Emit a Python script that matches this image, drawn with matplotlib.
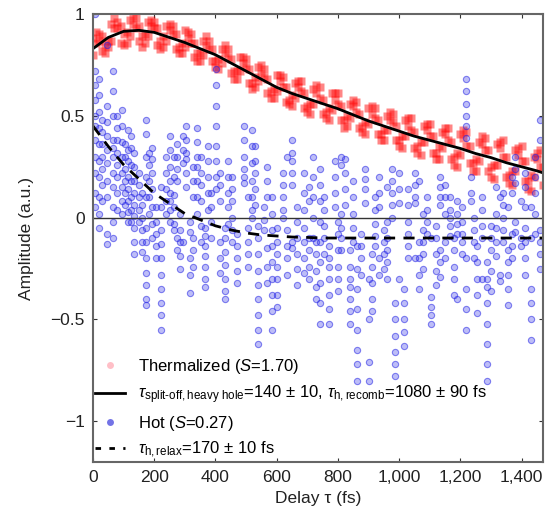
import numpy as np
import matplotlib
matplotlib.use('Agg')
import matplotlib.pyplot as plt
from matplotlib.lines import Line2D

plt.rcParams['font.family'] = ['Liberation Sans', 'DejaVu Sans']
plt.rcParams['mathtext.fontset'] = 'custom'
plt.rcParams['mathtext.rm'] = 'Liberation Sans'
plt.rcParams['mathtext.it'] = 'Liberation Sans:italic'

# thermalized signal, two scans on a 10 fs grid
therm_delay = np.arange(0, 1480, 10)
therm_scan1 = [0.88, 0.91, 0.87, 0.82, 0.81, 0.87, 0.95, 0.98, 0.93, 0.86,
               0.85, 0.91, 0.97, 0.99, 0.93, 0.87, 0.84, 0.90, 0.96, 0.97,
               0.93, 0.85, 0.83, 0.89, 0.94, 0.95, 0.90, 0.83, 0.81, 0.86,
               0.92, 0.91, 0.86, 0.79, 0.77, 0.81, 0.87, 0.89, 0.83, 0.77,
               0.74, 0.78, 0.83, 0.85, 0.79, 0.71, 0.68, 0.72, 0.79, 0.79,
               0.74, 0.66, 0.63, 0.69, 0.74, 0.75, 0.69, 0.61, 0.59, 0.63,
               0.70, 0.70, 0.64, 0.57, 0.56, 0.60, 0.66, 0.67, 0.62, 0.54,
               0.52, 0.56, 0.63, 0.65, 0.59, 0.51, 0.49, 0.54, 0.61, 0.61,
               0.56, 0.48, 0.44, 0.50, 0.56, 0.58, 0.52, 0.44, 0.42, 0.47,
               0.54, 0.55, 0.49, 0.41, 0.38, 0.43, 0.50, 0.52, 0.47, 0.38,
               0.35, 0.40, 0.48, 0.49, 0.43, 0.34, 0.32, 0.37, 0.45, 0.46,
               0.40, 0.32, 0.29, 0.35, 0.42, 0.44, 0.38, 0.29, 0.26, 0.32,
               0.41, 0.43, 0.35, 0.27, 0.23, 0.29, 0.37, 0.40, 0.33, 0.23,
               0.20, 0.26, 0.36, 0.37, 0.30, 0.20, 0.17, 0.23, 0.33, 0.34,
               0.28, 0.18, 0.14, 0.21, 0.30, 0.32, 0.25, 0.16]
therm_scan2 = [0.80, 0.86, 0.90, 0.89, 0.85, 0.84, 0.87, 0.93, 0.96, 0.94,
               0.90, 0.86, 0.89, 0.95, 0.98, 0.94, 0.89, 0.86, 0.89, 0.94,
               0.96, 0.93, 0.87, 0.84, 0.87, 0.92, 0.94, 0.90, 0.84, 0.81,
               0.84, 0.88, 0.90, 0.86, 0.81, 0.77, 0.80, 0.85, 0.87, 0.83,
               0.77, 0.73, 0.76, 0.81, 0.83, 0.78, 0.72, 0.68, 0.72, 0.76,
               0.78, 0.73, 0.66, 0.64, 0.67, 0.71, 0.73, 0.68, 0.62, 0.59,
               0.62, 0.67, 0.69, 0.64, 0.58, 0.55, 0.59, 0.64, 0.67, 0.61,
               0.55, 0.51, 0.56, 0.61, 0.64, 0.58, 0.52, 0.48, 0.53, 0.58,
               0.61, 0.55, 0.48, 0.45, 0.49, 0.55, 0.57, 0.51, 0.45, 0.41,
               0.46, 0.51, 0.54, 0.48, 0.41, 0.38, 0.43, 0.48, 0.51, 0.45,
               0.38, 0.34, 0.40, 0.45, 0.49, 0.42, 0.35, 0.31, 0.37, 0.43,
               0.46, 0.40, 0.32, 0.29, 0.34, 0.41, 0.44, 0.37, 0.30, 0.25,
               0.31, 0.39, 0.42, 0.35, 0.27, 0.23, 0.28, 0.36, 0.39, 0.33,
               0.25, 0.19, 0.26, 0.34, 0.38, 0.30, 0.21, 0.16, 0.23, 0.31,
               0.35, 0.28, 0.18, 0.13, 0.20, 0.29, 0.33, 0.25]

# hot signal: delay columns, number of points per column, amplitudes
hot_delay = [5, 20, 45, 65, 95, 115, 135, 150, 172, 192,
             222, 250, 265, 285, 305, 318, 340, 365, 385, 403,
             430, 455, 492, 518, 540, 560, 585, 620, 650, 690,
             720, 740, 772, 790, 810, 822, 838, 864, 890, 902,
             922, 950, 978, 985, 1000, 1015, 1052, 1078, 1105, 1135,
             1165, 1190, 1217, 1235, 1255, 1287, 1315, 1330, 1355, 1380,
             1398, 1432, 1460]
hot_count = [11, 10, 10, 11, 8, 8, 9, 5, 12, 7,
             10, 8, 6, 5, 6, 5, 7, 7, 4, 8,
             7, 6, 6, 7, 9, 3, 9, 5, 7, 7,
             5, 9, 7, 4, 6, 4, 7, 8, 4, 4,
             5, 4, 5, 6, 4, 5, 5, 5, 5, 7,
             5, 5, 10, 3, 5, 8, 5, 3, 6, 5,
             3, 6, 6]
hot_amp = [1.0, 0.72, 0.65, 0.58, 0.5, 0.45, 0.38, 0.3, 0.22, 0.12, 0.05,
           0.68, 0.6, 0.52, 0.44, 0.36, 0.28, 0.2, 0.1, 0.02, -0.05,
           0.85, 0.55, 0.47, 0.4, 0.33, 0.27, 0.18, 0.1, -0.08, -0.13,
           0.72, 0.62, 0.5, 0.38, 0.34, 0.3, 0.22, 0.15, 0.05, -0.02, -0.1,
           0.53, 0.45, 0.37, 0.3, 0.22, 0.15, 0.08, 0.02,
           0.43, 0.33, 0.28, 0.2, 0.14, 0.08, 0.03, -0.02,
           0.32, 0.25, 0.18, 0.12, 0.06, 0.01, -0.05, -0.12, -0.18,
           0.22, 0.16, 0.1, 0.04, -0.02,
           0.48, 0.41, 0.3, 0.2, 0.1, -0.05, -0.12, -0.2, -0.27, -0.33, -0.4, -0.43,
           0.34, 0.29, 0.22, 0.14, 0.05, -0.03, -0.1,
           0.15, 0.05, -0.06, -0.13, -0.2, -0.28, -0.35, -0.42, -0.48, -0.55,
           0.4, 0.33, 0.25, 0.18, 0.12, 0.08, 0.04, -0.02,
           0.3, 0.2, 0.11, 0.05, -0.03, -0.06,
           0.02, -0.06, -0.12, -0.19, -0.25,
           0.45, 0.38, 0.32, 0.29, 0.22, 0.15,
           -0.02, -0.07, -0.2, -0.28, -0.37,
           0.44, 0.37, 0.3, 0.25, 0.18, 0.1, 0.02,
           -0.05, -0.09, -0.14, -0.19, -0.24, -0.3, -0.34,
           0.12, 0.05, -0.02, -0.1,
           0.73, 0.65, 0.55, 0.45, 0.35, 0.28, 0.2, 0.14,
           -0.05, -0.1, -0.17, -0.23, -0.3, -0.36, -0.4,
           0.2, 0.14, 0.08, 0.0, -0.06, -0.12,
           0.45, 0.38, 0.3, 0.24, 0.2, 0.17,
           0.43, 0.35, 0.27, 0.18, 0.1, 0.04, 0.0,
           -0.04, -0.1, -0.18, -0.26, -0.33, -0.4, -0.48, -0.55, -0.62,
           0.05, -0.01, -0.06,
           0.1, 0.02, -0.06, -0.14, -0.22, -0.3, -0.38, -0.46, -0.55,
           0.22, 0.16, 0.1, 0.04, 0.0,
           0.38, 0.32, 0.28, 0.22, 0.16, -0.12, -0.15,
           0.22, 0.12, 0.04, -0.05, -0.12, -0.2, -0.27,
           0.3, 0.2, 0.1, 0.0, -0.1,
           0.24, 0.16, 0.08, -0.02, -0.12, -0.22, -0.32, -0.42, -0.52,
           -0.14, -0.2, -0.24, -0.3, -0.38, -0.45, -0.52,
           0.28, 0.2, 0.12, 0.05,
           0.3, 0.26, 0.02, -0.05, -0.1, -0.16,
           0.29, 0.22, 0.14, 0.06,
           -0.16, -0.24, -0.3, -0.34, -0.4, -0.46, -0.52,
           -0.14, -0.25, -0.35, -0.45, -0.55, -0.65, -0.72, -0.8,
           0.24, 0.19, 0.14, 0.07,
           -0.3, -0.5, -0.71, -0.8,
           0.1, 0.04, -0.03, -0.09, -0.14,
           -0.06, -0.12, -0.18, -0.25,
           0.24, 0.18, 0.12, 0.06, 0.0,
           -0.42, -0.5, -0.58, -0.66, -0.72, -0.78,
           0.22, 0.14, 0.07, -0.3,
           -0.35, -0.42, -0.5, -0.56, -0.63,
           0.22, 0.16, 0.1, 0.07, -0.2,
           0.02, -0.06, -0.12, -0.18, -0.25,
           -0.39, -0.44, -0.48, -0.52, -0.1,
           0.2, 0.15, 0.1, 0.06, -0.16, -0.22, -0.29,
           0.04, 0.0, -0.04, -0.09, 0.1,
           0.08, 0.02, -0.03, -0.08, -0.4,
           0.68, 0.62, 0.56, 0.5, 0.45, 0.39, -0.2, -0.35, -0.45, -0.55,
           0.12, 0.08, 0.2,
           -0.14, -0.22, -0.3, -0.38, -0.47,
           -0.22, -0.3, -0.34, -0.42, -0.52, -0.62, -0.72, -0.8,
           0.02, -0.05, -0.12, -0.19, 0.15,
           -0.28, -0.31, 0.1,
           -0.16, -0.22, -0.28, -0.35, -0.43, 0.05,
           0.3, 0.24, 0.17, -0.02, -0.07,
           -0.14, -0.1, 0.08,
           -0.35, -0.42, -0.5, -0.6, 0.05, -0.1,
           0.48, 0.38, -0.06, -0.12, -0.18, -0.25]

# second pass of hot scans, in-between delays
hot2_delay = [30, 80, 105, 125, 160, 182, 205, 238, 275, 295,
              328, 352, 375, 415, 442, 470, 505, 530, 570, 600,
              635, 665, 705, 730, 755, 800, 850, 875, 912, 935,
              962, 1030, 1065, 1090, 1120, 1150, 1178, 1205, 1245, 1270,
              1300, 1340, 1368, 1410, 1445]
hot2_count = [7, 8, 6, 7, 6, 5, 5, 5, 6, 4,
              6, 6, 5, 6, 5, 5, 5, 5, 6, 7,
              5, 6, 6, 5, 5, 6, 5, 4, 5, 5,
              6, 6, 5, 4, 5, 5, 5, 5, 4, 5,
              5, 5, 5, 7, 5]
hot2_amp = [0.48, 0.42, 0.36, 0.3, 0.24, 0.16, 0.08,
            0.5, 0.44, 0.38, 0.32, 0.26, 0.2, 0.12, 0.04,
            0.36, 0.3, 0.24, 0.18, 0.12, 0.06,
            0.4, 0.34, 0.26, 0.18, 0.1, 0.04, -0.02,
            0.12, 0.06, 0.0, -0.06, -0.12, -0.17,
            0.32, 0.26, 0.18, 0.1, 0.02,
            0.05, -0.02, -0.08, -0.14, -0.2,
            0.3, 0.22, 0.14, 0.08, 0.02,
            0.36, 0.3, 0.24, 0.18, -0.1, -0.16,
            0.4, 0.33, 0.27, -0.12,
            0.25, 0.18, 0.1, -0.1, -0.16, -0.24,
            0.3, 0.22, 0.16, 0.08, -0.04, -0.12,
            0.35, 0.28, 0.2, 0.12, 0.04,
            0.22, 0.16, 0.08, -0.12, -0.2, -0.27,
            0.28, 0.2, 0.12, 0.05, -0.03,
            -0.08, -0.14, -0.2, -0.26, -0.32,
            -0.05, -0.12, -0.18, -0.24, 0.1,
            0.35, 0.28, 0.22, 0.14, 0.06,
            0.25, 0.18, 0.1, -0.15, -0.24, -0.32,
            -0.05, -0.12, -0.18, -0.24, -0.3, -0.38, -0.44,
            -0.06, -0.14, -0.2, -0.28, 0.3,
            0.05, -0.02, -0.1, -0.18, -0.25, -0.33,
            -0.1, -0.16, -0.24, -0.3, 0.15, 0.08,
            -0.12, -0.18, -0.26, -0.34, -0.4,
            0.1, 0.04, -0.04, -0.1, -0.18,
            -0.02, -0.08, -0.16, -0.24, -0.3, -0.36,
            0.18, 0.1, 0.02, -0.05, -0.12,
            -0.08, -0.14, -0.2, -0.28,
            -0.18, -0.24, -0.32, -0.4, -0.46,
            0.2, 0.12, 0.05, -0.2, -0.28,
            -0.02, -0.1, -0.16, -0.22, -0.3, 0.15,
            0.14, 0.06, -0.02, -0.08, -0.14, -0.2,
            -0.12, -0.2, -0.28, -0.35, 0.18,
            0.1, 0.04, -0.02, -0.08,
            -0.04, -0.1, -0.18, -0.26, -0.33,
            0.16, 0.1, 0.02, -0.12, -0.2,
            -0.1, -0.16, -0.24, -0.3, -0.38,
            0.05, -0.02, -0.08, -0.12, -0.18,
            0.0, -0.06, -0.12, -0.2,
            0.1, 0.04, -0.04, -0.1, -0.3,
            -0.04, -0.1, -0.16, -0.26, -0.36,
            0.12, 0.06, 0.0, -0.06, -0.12,
            0.2, 0.12, -0.08, -0.14, -0.2,
            0.22, 0.15, 0.05, -0.05, -0.12, -0.2, -0.28,
            0.3, 0.2, 0.12, 0.02, -0.08]

# fitted curves
fit_delay = [0, 50, 100, 150, 200, 250, 300, 350, 400, 450, 500, 550, 600, 650,
             700, 750, 800, 850, 900, 950, 1000, 1050, 1100, 1150, 1200, 1250,
             1300, 1350, 1400, 1450, 1470]
fit_therm = [0.83, 0.885, 0.915, 0.92, 0.91, 0.885, 0.86, 0.83, 0.80, 0.76,
             0.72, 0.68, 0.64, 0.61, 0.585, 0.56, 0.535, 0.505, 0.475, 0.45,
             0.425, 0.40, 0.38, 0.36, 0.34, 0.315, 0.295, 0.27, 0.25, 0.23, 0.22]
fit_hot = [0.45, 0.35, 0.26, 0.19, 0.12, 0.07, 0.02, -0.01, -0.04, -0.06,
           -0.075, -0.085, -0.09, -0.095, -0.097, -0.1, -0.1, -0.1, -0.1, -0.1,
           -0.1, -0.1, -0.1, -0.1, -0.1, -0.1, -0.1, -0.1, -0.1, -0.1, -0.1]

hot_x = np.concatenate([np.repeat(hot_delay, hot_count),
                        np.repeat(hot2_delay, hot2_count)])
hot_y = np.concatenate([hot_amp, hot2_amp])

fig = plt.figure(figsize=(5.45, 5.2), dpi=100)
ax = fig.add_axes([0.1706, 0.1115, 0.8257, 0.8615])

red = (1.0, 0.05, 0.05)
for scan in (therm_scan1, therm_scan2):
    ax.plot(therm_delay, scan, 's', ms=5.5, color=red, alpha=0.5, mec='none')
ax.plot(hot_x, hot_y, 'o', ms=4.5, mfc=(0.15, 0.15, 0.9, 0.3),
        mec=(0.15, 0.15, 0.9, 0.55), mew=0.8, ls='none')
ax.axhline(0, color='#333333', lw=1)
ax.plot(fit_delay, fit_therm, '-', color='black', lw=2)
ax.plot(fit_delay, fit_hot, '--', color='black', lw=2, dashes=(4, 3))

ax.set_xlim(0, 1470)
ax.set_ylim(-1.2, 1.0)
ax.set_xticks([0, 200, 400, 600, 800, 1000, 1200, 1400])
ax.set_xticklabels(['0', '200', '400', '600', '800', '1,000', '1,200', '1,400'])
ax.set_yticks([-1, -0.5, 0, 0.5, 1])
ax.set_yticklabels(['\u22121', '\u22120.5', '0', '0.5', '1'])
ax.tick_params(direction='in', length=3, width=0.8, top=True, right=True,
               labelsize=12.5, colors='#333333', labelcolor='#222222', pad=6)
for s in ax.spines.values():
    s.set_color('#666666')
    s.set_linewidth(1.5)

ax.set_xlabel('Delay \u03c4 (fs)', fontsize=12.5, color='#222222', labelpad=4)
ax.set_ylabel('Amplitude (a.u.)', fontsize=12.5, color='#222222', labelpad=12)

handles = [
    Line2D([], [], marker='o', ls='none', ms=5, color=(1.0, 0.75, 0.78), mec='none'),
    Line2D([], [], color='black', lw=2),
    Line2D([], [], marker='o', ls='none', ms=5, color=(0.45, 0.45, 0.9), mec='none'),
    Line2D([], [], color='black', lw=2, ls='--', dashes=(2, 3)),
]
labels = [
    'Thermalized ($S$=1.70)',
    '$\\tau_{\\mathrm{split\u2010off,heavy\\ hole}}$=140 \u00b1 10, '
    '$\\tau_{\\mathrm{h,recomb}}$=1080 \u00b1 90 fs',
    'Hot ($S$=0.27)',
    '$\\tau_{\\mathrm{h,relax}}$=170 \u00b1 10 fs',
]
ax.legend(handles, labels, loc='lower left', frameon=False, fontsize=12,
          handlelength=1.8, handletextpad=0.8, labelspacing=0.45,
          borderaxespad=0.05, borderpad=0.05)

fig.savefig('out.png', dpi=100)
